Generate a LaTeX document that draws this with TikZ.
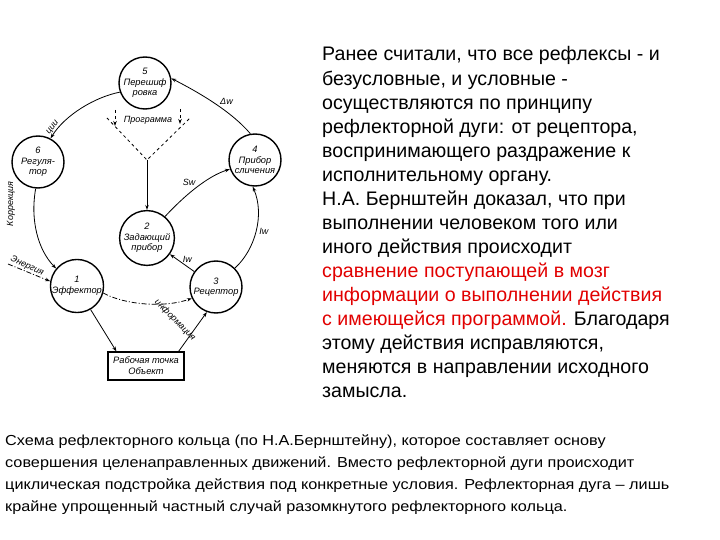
\documentclass[tikz,border=0pt]{standalone}
\usepackage{fontspec}
\setmainfont{Liberation Sans}
\newfontfamily\scanfont{Liberation Sans}
\newfontfamily\notefont[FakeStretch=1.12]{Liberation Sans}
\usetikzlibrary{arrows.meta, positioning, calc}
\definecolor{accent}{RGB}{225, 0, 0}

\begin{document}
\begin{tikzpicture}[x=1pt, y=-1pt, >={Stealth[length=5pt, width=3.5pt]},
    unit/.style={circle, draw, line width=1.4pt, minimum size=52pt, inner sep=0pt,
                 align=center, font=\scanfont\itshape\fontsize{9.3}{10.5}\selectfont},
    object/.style={rectangle, draw, line width=1.1pt, minimum width=76pt,
                   minimum height=28pt, align=center, font=\scanfont\itshape\fontsize{9.3}{11}\selectfont},
    flow/.style={->, line width=0.8pt},
    signal/.style={->, line width=0.8pt, dash pattern=on 5pt off 2pt on 1pt off 2pt},
    lbl/.style={font=\scanfont\itshape\fontsize{9}{10}\selectfont, inner sep=1pt}]
    \useasboundingbox (0, 0) rectangle (720, 540);

    % Ring units
    \node[unit] (perekod) at (145, 83) {5\\Перешиф\\ровка};
    \node[unit] (regul) at (38, 162) {6\\Регуля-\\тор};
    \node[unit] (sverka) at (255, 160) {4\\Прибор\\сличения};
    \node[unit] (zadach) at (147, 238) {2\\Задающий\\прибор};
    \node[unit] (effekt) at (77, 286) {1\\Эффектор};
    \node[unit] (recept) at (216, 287) {3\\Рецептор};
    \node[object] (objekt) at (146, 366) {Рабочая точка\\Объект};

    % Program fork
    \coordinate (progL) at (107, 118);
    \coordinate (progR) at (190, 118);
    \coordinate (fork) at (147, 160);
    \coordinate (energy) at (8, 264);
    \node[lbl] (prog) at (148, 120) {Программа};
    \draw[dashed, line width=0.8pt] (progL) -- (fork) -- (progR);
    \draw[->, dashed, line width=0.7pt] (115, 110) -- (115, 126);
    \draw[->, dashed, line width=0.7pt] (180, 109) -- (180, 124);
    \draw[flow] (fork) -- (zadach);

    % Ring arrows
    \draw[flow] (perekod.200) .. controls (95, 97) and (65, 115) .. (regul.62)
        node[lbl, pos=0.78, above left, rotate=52] {ции};
    \draw[flow] (sverka.100) .. controls (232, 112) and (200, 93) .. (perekod.10)
        node[lbl, pos=0.45, above right] {Δw};
    \draw[flow] (regul.265) .. controls (30, 220) and (38, 250) .. (effekt.140);
    \node[lbl, rotate=90] (korr) at (11, 204) {Коррекция};
    \draw[flow] (zadach.50) .. controls (185, 195) and (208, 176) .. (sverka.200)
        node[lbl, pos=0.5, above left] {Sw};
    \draw[flow] (recept.45) .. controls (255, 250) and (265, 215) .. (sverka.265)
        node[lbl, pos=0.5, right=2pt] {Iw};
    \draw[flow] (recept) -- node[lbl, above right=-1pt] {Iw} (zadach);

    % Object loop
    \draw[flow] (effekt.-60) -- ($(objekt.north west)+(9, 0)$);
    \draw[flow] ($(objekt.north east)+(-6, 0)$) -- (recept.250);
    \draw[signal] (effekt.-15) .. controls (125, 305) and (165, 308) .. (recept.205);
    \draw[signal] (energy) -- (effekt.170)
        node[lbl, pos=0.4, above, rotate=-25] {Энергия};
    \node[lbl, rotate=-45] (inform) at (175, 320) {информация};

    % Texts
    \node[anchor=base west, inner sep=0pt] (rasskaz) at (322, 61)
        {\parbox[t]{395pt}{\raggedright\fontsize{19.6}{24.07}\selectfont
         Ранее считали, что все рефлексы - и\\
         безусловные, и условные -\\
         осуществляются по принципу\\
         рефлекторной дуги: от рецептора,\\
         воспринимающего раздражение к\\
         исполнительному органу.\\
         Н.А. Бернштейн доказал, что при\\
         выполнении человеком того или\\
         иного действия происходит\\
         \textcolor{accent}{сравнение поступающей в мозг}\\
         \textcolor{accent}{информации о выполнении действия}\\
         \textcolor{accent}{с имеющейся программой.} Благодаря\\
         этому действия исправляются,\\
         меняются в направлении исходного\\
         замысла.}};
    \node[anchor=base west, inner sep=0pt] (podpis) at (5, 445)
        {\parbox[t]{710pt}{\raggedright\notefont\fontsize{14.5}{22}\selectfont
         Схема рефлекторного кольца (по Н.А.Бернштейну), которое составляет основу\\
         совершения целенаправленных движений. Вместо рефлекторной дуги происходит\\
         циклическая подстройка действия под конкретные условия. Рефлекторная дуга – лишь\\
         крайне упрощенный частный случай разомкнутого рефлекторного кольца.}};
\end{tikzpicture}
\end{document}
